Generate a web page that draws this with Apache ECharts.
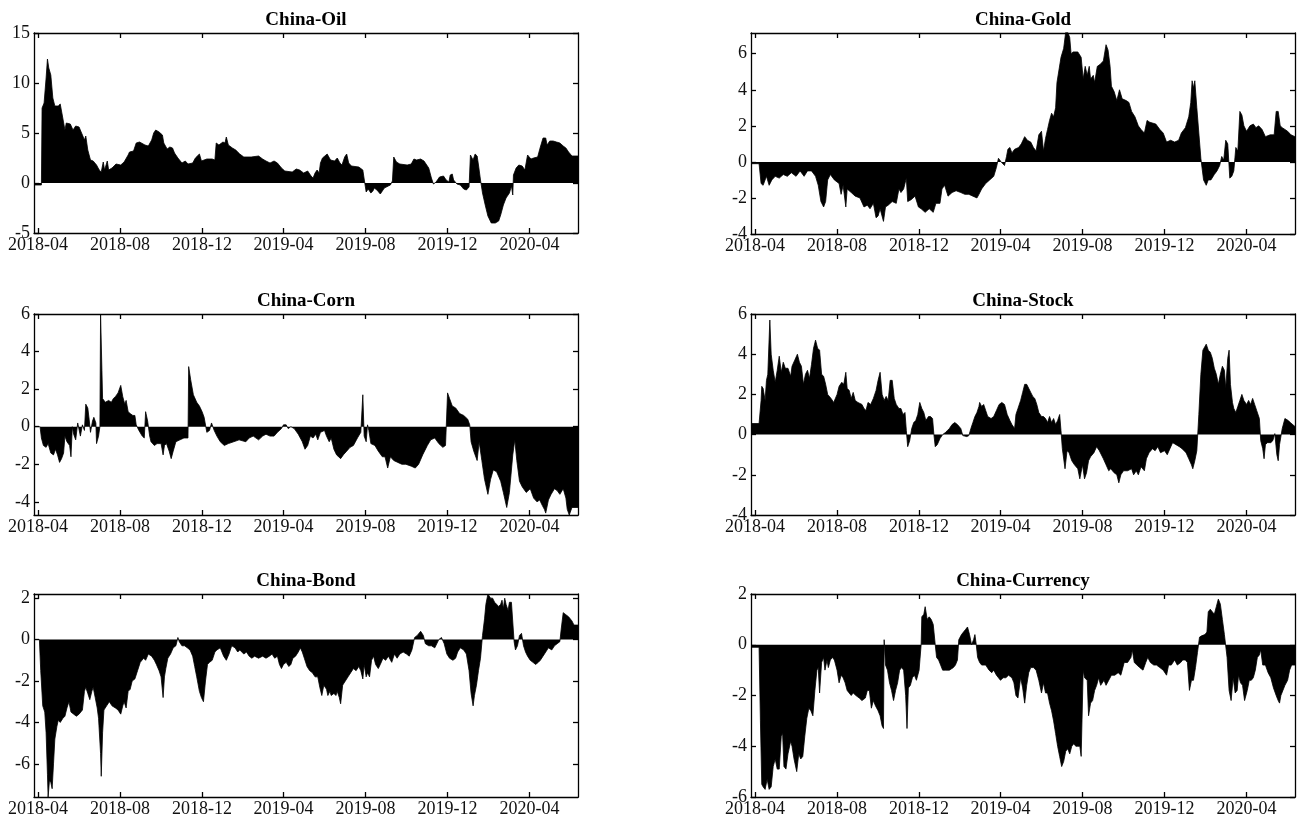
<!DOCTYPE html>
<html>
<head>
<meta charset="utf-8">
<script src="https://cdn.jsdelivr.net/npm/echarts@6/dist/echarts.min.js"></script>
<style>
  html, body { margin: 0; padding: 0; background: #fff; }
  #main { width: 1303px; height: 826px; }
</style>
</head>
<body>
<div id="main"></div>
<script>
// panel titles and shared x ticks
const titles = ['China-Oil', 'China-Gold', 'China-Corn', 'China-Stock', 'China-Bond', 'China-Currency'];
const xTicks = ['2018-04-01', '2018-08-01', '2018-12-01', '2019-04-01', '2019-08-01', '2019-12-01', '2020-04-01'];
const xStart = '2018-03-26';
const xEnd = '2020-06-12';

// y ticks per panel
const oilTicks = [-5, 0, 5, 10, 15];
const goldTicks = [-4, -2, 0, 2, 4, 6];
const cornTicks = [-4, -2, 0, 2, 4, 6];
const stockTicks = [-4, -2, 0, 2, 4, 6];
const bondTicks = [-6, -4, -2, 0, 2];
const currencyTicks = [-6, -4, -2, 0, 2];

// series: [date, value]
const oilData = [
  ['2018-03-26', -0.2], ['2018-04-06', -0.2], ['2018-04-07', 7.5], ['2018-04-10', 8], ['2018-04-13', 10.5],
  ['2018-04-15', 12.4], ['2018-04-17', 11.5], ['2018-04-19', 11.3], ['2018-04-20', 10.8], ['2018-04-23', 8.5],
  ['2018-04-26', 7.7], ['2018-05-01', 7.7], ['2018-05-04', 7.9], ['2018-05-07', 6.8], ['2018-05-11', 5.3],
  ['2018-05-13', 6.0], ['2018-05-19', 5.9], ['2018-05-23', 5.3], ['2018-05-27', 5.7], ['2018-06-01', 5.6],
  ['2018-06-06', 4.8], ['2018-06-09', 4.3], ['2018-06-11', 4.7], ['2018-06-14', 3.3], ['2018-06-18', 2.3],
  ['2018-06-22', 2.2], ['2018-06-27', 1.8], ['2018-07-01', 1.3], ['2018-07-04', 1.1], ['2018-07-07', 2.1],
  ['2018-07-09', 1.3], ['2018-07-13', 2.2], ['2018-07-15', 1.3], ['2018-07-20', 1.5], ['2018-07-26', 1.9],
  ['2018-08-02', 1.8], ['2018-08-07', 2.1], ['2018-08-13', 2.8], ['2018-08-15', 3.1], ['2018-08-21', 3.2],
  ['2018-08-25', 4.0], ['2018-08-30', 4.1], ['2018-09-07', 3.8], ['2018-09-12', 3.7], ['2018-09-17', 4.3],
  ['2018-09-20', 5.0], ['2018-09-23', 5.3], ['2018-09-28', 5.1], ['2018-10-03', 4.8], ['2018-10-05', 4.0],
  ['2018-10-10', 3.4], ['2018-10-14', 3.6], ['2018-10-18', 3.5], ['2018-10-21', 3.0], ['2018-10-26', 2.5],
  ['2018-11-01', 2.0], ['2018-11-06', 2.2], ['2018-11-10', 1.9], ['2018-11-17', 2.0], ['2018-11-21', 2.5],
  ['2018-11-27', 2.9], ['2018-11-30', 2.2], ['2018-12-08', 2.4], ['2018-12-16', 2.4], ['2018-12-20', 2.3],
  ['2018-12-22', 4.0], ['2018-12-26', 3.8], ['2019-01-01', 4.1], ['2019-01-04', 4.0], ['2019-01-06', 4.6],
  ['2019-01-09', 3.8], ['2019-01-15', 3.5], ['2019-01-20', 3.3], ['2019-01-26', 2.9], ['2019-02-01', 2.6],
  ['2019-02-12', 2.6], ['2019-02-23', 2.7], ['2019-03-01', 2.4], ['2019-03-06', 2.2], ['2019-03-12', 2.0],
  ['2019-03-18', 2.2], ['2019-03-23', 2.0], ['2019-03-29', 1.5], ['2019-04-03', 1.2], ['2019-04-14', 1.1],
  ['2019-04-20', 1.4], ['2019-04-25', 1.3], ['2019-05-01', 1.0], ['2019-05-07', 1.2], ['2019-05-12', 0.7],
  ['2019-05-15', 0.5], ['2019-05-18', 1.0], ['2019-05-21', 1.3], ['2019-05-24', 1.0], ['2019-05-26', 2.0],
  ['2019-05-29', 2.5], ['2019-06-05', 2.9], ['2019-06-07', 3.0], ['2019-06-10', 2.3], ['2019-06-16', 2.2],
  ['2019-06-20', 2.5], ['2019-06-24', 2.0], ['2019-06-27', 1.8], ['2019-07-01', 2.6], ['2019-07-04', 2.9],
  ['2019-07-07', 2.0], ['2019-07-11', 1.7], ['2019-07-22', 1.6], ['2019-07-28', 1.3], ['2019-07-30', 0.4],
  ['2019-08-02', -0.9], ['2019-08-05', -0.6], ['2019-08-09', -1.0], ['2019-08-12', -0.8], ['2019-08-14', -0.5],
  ['2019-08-18', -0.7], ['2019-08-23', -1.1], ['2019-08-25', -0.9], ['2019-08-29', -0.5], ['2019-09-04', -0.3],
  ['2019-09-07', -0.2], ['2019-09-10', 0.2], ['2019-09-12', 2.6], ['2019-09-16', 2.1], ['2019-09-21', 1.9],
  ['2019-10-02', 1.8], ['2019-10-08', 1.9], ['2019-10-12', 2.4], ['2019-10-16', 2.3], ['2019-10-22', 2.4],
  ['2019-10-27', 2.2], ['2019-11-03', 1.5], ['2019-11-07', 0.5], ['2019-11-10', -0.1], ['2019-11-14', 0.1],
  ['2019-11-19', 0.6], ['2019-11-25', 0.7], ['2019-11-29', 0.3], ['2019-12-03', 0.1], ['2019-12-05', 0.8],
  ['2019-12-08', 0.9], ['2019-12-10', 0.3], ['2019-12-15', -0.1], ['2019-12-20', -0.2], ['2019-12-25', -0.6],
  ['2019-12-29', -0.7], ['2020-01-02', -0.4], ['2020-01-04', 2.8], ['2020-01-08', 2.3], ['2020-01-11', 2.9],
  ['2020-01-14', 2.7], ['2020-01-16', 1.8], ['2020-01-19', 0.3], ['2020-01-22', -1.0], ['2020-01-26', -2.2],
  ['2020-01-30', -3.3], ['2020-02-04', -4.0], ['2020-02-10', -4.0], ['2020-02-15', -3.8], ['2020-02-18', -3.2],
  ['2020-02-22', -2.2], ['2020-02-26', -1.5], ['2020-03-02', -1.0], ['2020-03-05', -0.3], ['2020-03-07', -1.2],
  ['2020-03-08', 0.8], ['2020-03-12', 1.5], ['2020-03-16', 1.8], ['2020-03-21', 1.7], ['2020-03-25', 1.3],
  ['2020-03-29', 2.8], ['2020-04-03', 2.4], ['2020-04-07', 2.5], ['2020-04-13', 2.6], ['2020-04-17', 3.6],
  ['2020-04-21', 4.5], ['2020-04-25', 4.5], ['2020-04-27', 3.8], ['2020-05-01', 4.2], ['2020-05-06', 4.2],
  ['2020-05-11', 4.1], ['2020-05-16', 4.0], ['2020-05-21', 3.7], ['2020-05-25', 3.5], ['2020-05-29', 3.1],
  ['2020-06-03', 2.7], ['2020-06-12', 2.7]
];

const goldData = [
  ['2018-03-26', -0.1], ['2018-04-07', -0.1], ['2018-04-10', -1.2], ['2018-04-13', -1.3], ['2018-04-18', -0.8],
  ['2018-04-22', -1.3], ['2018-04-26', -1.0], ['2018-05-01', -0.8], ['2018-05-07', -0.9], ['2018-05-13', -0.7],
  ['2018-05-19', -0.8], ['2018-05-25', -0.6], ['2018-06-01', -0.8], ['2018-06-07', -0.5], ['2018-06-13', -0.8],
  ['2018-06-18', -0.5], ['2018-06-24', -0.5], ['2018-06-30', -0.8], ['2018-07-04', -1.3], ['2018-07-08', -2.2],
  ['2018-07-12', -2.5], ['2018-07-15', -2.2], ['2018-07-18', -1.0], ['2018-07-22', -0.7], ['2018-07-28', -1.0],
  ['2018-08-04', -1.2], ['2018-08-07', -1.8], ['2018-08-10', -1.3], ['2018-08-14', -2.5], ['2018-08-16', -1.5],
  ['2018-08-22', -1.7], ['2018-08-28', -1.9], ['2018-09-04', -2.0], ['2018-09-10', -2.5], ['2018-09-15', -2.4],
  ['2018-09-19', -2.6], ['2018-09-24', -2.3], ['2018-09-28', -3.1], ['2018-10-01', -3.0], ['2018-10-04', -2.6],
  ['2018-10-09', -3.3], ['2018-10-12', -2.5], ['2018-10-16', -2.4], ['2018-10-22', -2.2], ['2018-10-28', -2.3],
  ['2018-11-01', -1.5], ['2018-11-04', -1.7], ['2018-11-08', -1.5], ['2018-11-12', -0.9], ['2018-11-14', -2.2],
  ['2018-11-19', -2.1], ['2018-11-25', -1.9], ['2018-11-30', -2.5], ['2018-12-04', -2.6], ['2018-12-10', -2.8],
  ['2018-12-16', -2.6], ['2018-12-22', -2.8], ['2018-12-26', -2.3], ['2019-01-01', -2.3], ['2019-01-04', -1.5],
  ['2019-01-08', -1.3], ['2019-01-13', -1.9], ['2019-01-19', -1.7], ['2019-01-25', -1.6], ['2019-02-01', -1.7],
  ['2019-02-07', -1.8], ['2019-02-13', -1.8], ['2019-02-19', -1.9], ['2019-02-25', -2.0], ['2019-02-28', -1.8],
  ['2019-03-04', -1.5], ['2019-03-10', -1.2], ['2019-03-16', -1.0], ['2019-03-22', -0.8], ['2019-03-26', -0.3],
  ['2019-03-29', 0.2], ['2019-04-02', 0.0], ['2019-04-07', -0.2], ['2019-04-10', 0.3], ['2019-04-12', 0.7],
  ['2019-04-15', 0.8], ['2019-04-18', 0.5], ['2019-04-22', 0.7], ['2019-04-28', 0.8], ['2019-05-02', 1.0],
  ['2019-05-07', 1.4], ['2019-05-11', 1.2], ['2019-05-16', 1.1], ['2019-05-20', 0.8], ['2019-05-24', 0.6],
  ['2019-05-28', 1.5], ['2019-06-01', 1.7], ['2019-06-04', 0.6], ['2019-06-07', 1.3], ['2019-06-10', 1.8],
  ['2019-06-13', 2.3], ['2019-06-16', 2.7], ['2019-06-19', 2.5], ['2019-06-22', 3.0], ['2019-06-24', 4.4],
  ['2019-06-26', 4.3], ['2019-06-30', 5.8], ['2019-07-04', 6.3], ['2019-07-07', 7.2], ['2019-07-10', 7.2],
  ['2019-07-13', 6.9], ['2019-07-15', 6.0], ['2019-07-18', 6.1], ['2019-07-25', 6.1], ['2019-07-30', 5.8],
  ['2019-08-02', 4.6], ['2019-08-05', 5.3], ['2019-08-08', 4.8], ['2019-08-11', 5.3], ['2019-08-13', 4.6],
  ['2019-08-17', 4.8], ['2019-08-19', 4.4], ['2019-08-23', 5.3], ['2019-08-27', 5.4], ['2019-09-01', 5.6],
  ['2019-09-05', 6.5], ['2019-09-08', 6.2], ['2019-09-11', 5.3], ['2019-09-13', 4.2], ['2019-09-17', 3.9],
  ['2019-09-21', 3.4], ['2019-09-25', 4.0], ['2019-09-29', 3.5], ['2019-10-05', 3.4], ['2019-10-09', 3.3],
  ['2019-10-13', 2.8], ['2019-10-18', 2.5], ['2019-10-23', 2.0], ['2019-10-27', 1.8], ['2019-11-01', 1.6],
  ['2019-11-05', 2.3], ['2019-11-09', 2.2], ['2019-11-18', 2.1], ['2019-11-24', 1.8], ['2019-11-29', 1.6],
  ['2019-12-04', 1.1], ['2019-12-10', 1.2], ['2019-12-16', 1.1], ['2019-12-22', 1.2], ['2019-12-26', 1.6],
  ['2020-01-01', 1.9], ['2020-01-06', 2.5], ['2020-01-09', 3.3], ['2020-01-11', 4.5], ['2020-01-13', 4.1],
  ['2020-01-15', 4.5], ['2020-01-18', 3.0], ['2020-01-21', 1.6], ['2020-01-24', 0.2], ['2020-01-28', -1.0],
  ['2020-02-01', -1.3], ['2020-02-04', -1.0], ['2020-02-08', -1.0], ['2020-02-13', -0.7], ['2020-02-17', -0.5],
  ['2020-02-21', -0.2], ['2020-02-24', 0.3], ['2020-02-27', 0.1], ['2020-03-01', 1.2], ['2020-03-04', 1.0],
  ['2020-03-07', -0.9], ['2020-03-10', -0.8], ['2020-03-13', -0.5], ['2020-03-16', 0.8], ['2020-03-19', 0.6],
  ['2020-03-22', 2.8], ['2020-03-25', 2.6], ['2020-03-28', 2.0], ['2020-04-01', 1.7], ['2020-04-06', 2.0],
  ['2020-04-11', 2.1], ['2020-04-15', 1.9], ['2020-04-19', 2.0], ['2020-04-24', 1.8], ['2020-04-29', 1.4],
  ['2020-05-06', 1.5], ['2020-05-12', 1.5], ['2020-05-15', 2.8], ['2020-05-18', 2.8], ['2020-05-21', 2.0],
  ['2020-05-24', 1.9], ['2020-06-01', 1.7], ['2020-06-06', 1.5], ['2020-06-12', 1.4]
];

const cornData = [
  ['2018-03-26', 0.0], ['2018-04-04', 0.0], ['2018-04-06', -0.6], ['2018-04-09', -1.0], ['2018-04-13', -1.1],
  ['2018-04-16', -0.9], ['2018-04-20', -1.4], ['2018-04-24', -1.5], ['2018-04-27', -1.2], ['2018-04-30', -1.5],
  ['2018-05-03', -1.9], ['2018-05-06', -1.7], ['2018-05-09', -1.4], ['2018-05-11', -0.5], ['2018-05-14', -0.8],
  ['2018-05-18', -1.0], ['2018-05-20', -1.6], ['2018-05-22', 0.0], ['2018-05-24', -0.4], ['2018-05-27', -0.7],
  ['2018-05-30', 0.2], ['2018-06-01', 0.2], ['2018-06-03', -0.5], ['2018-06-06', 0.1], ['2018-06-09', -0.2],
  ['2018-06-11', 1.2], ['2018-06-14', 1.0], ['2018-06-16', 0.4], ['2018-06-18', -0.3], ['2018-06-21', 0.3],
  ['2018-06-23', 0.5], ['2018-06-26', 0.2], ['2018-06-27', -0.9], ['2018-06-30', -0.5], ['2018-07-02', 0.0],
  ['2018-07-03', 6.0], ['2018-07-05', 3.0], ['2018-07-06', 1.5], ['2018-07-10', 1.3], ['2018-07-15', 1.4],
  ['2018-07-19', 1.3], ['2018-07-22', 1.5], ['2018-07-25', 1.6], ['2018-07-29', 1.8], ['2018-08-02', 2.2],
  ['2018-08-05', 1.6], ['2018-08-08', 1.2], ['2018-08-10', 1.4], ['2018-08-13', 0.8], ['2018-08-16', 0.7],
  ['2018-08-20', 0.6], ['2018-08-23', 0.6], ['2018-08-25', 0.1], ['2018-08-29', -0.2], ['2018-09-03', -0.5],
  ['2018-09-06', -0.6], ['2018-09-08', 0.8], ['2018-09-11', 0.3], ['2018-09-14', -0.5], ['2018-09-16', -0.8],
  ['2018-09-21', -1.0], ['2018-09-25', -0.9], ['2018-10-01', -0.9], ['2018-10-04', -1.5], ['2018-10-06', -1.0],
  ['2018-10-09', -0.9], ['2018-10-13', -1.3], ['2018-10-16', -1.7], ['2018-10-19', -1.3], ['2018-10-23', -0.8],
  ['2018-10-29', -0.7], ['2018-11-04', -0.6], ['2018-11-10', -0.6], ['2018-11-11', 3.2], ['2018-11-14', 2.5],
  ['2018-11-18', 1.7], ['2018-11-23', 1.3], ['2018-11-27', 1.1], ['2018-12-01', 0.8], ['2018-12-04', 0.5],
  ['2018-12-08', -0.3], ['2018-12-12', -0.2], ['2018-12-15', 0.2], ['2018-12-19', -0.2], ['2018-12-23', -0.5],
  ['2018-12-28', -0.8], ['2019-01-03', -1.0], ['2019-01-09', -0.9], ['2019-01-17', -0.8], ['2019-01-25', -0.7],
  ['2019-02-04', -0.8], ['2019-02-09', -0.6], ['2019-02-15', -0.5], ['2019-02-23', -0.7], ['2019-03-01', -0.5],
  ['2019-03-06', -0.4], ['2019-03-12', -0.5], ['2019-03-18', -0.5], ['2019-03-23', -0.3], ['2019-03-29', -0.1],
  ['2019-04-01', 0.1], ['2019-04-05', 0.1], ['2019-04-08', -0.1], ['2019-04-12', 0.0], ['2019-04-17', -0.1],
  ['2019-04-23', -0.4], ['2019-04-29', -0.8], ['2019-05-03', -1.2], ['2019-05-07', -1.0], ['2019-05-11', -0.5],
  ['2019-05-15', -0.6], ['2019-05-19', -0.4], ['2019-05-22', -0.7], ['2019-05-26', -0.3], ['2019-06-01', -0.2],
  ['2019-06-04', -0.5], ['2019-06-08', -0.8], ['2019-06-11', -0.6], ['2019-06-15', -1.2], ['2019-06-19', -1.5],
  ['2019-06-25', -1.7], ['2019-06-29', -1.5], ['2019-07-04', -1.3], ['2019-07-09', -1.1], ['2019-07-14', -1.0],
  ['2019-07-20', -0.6], ['2019-07-25', -0.3], ['2019-07-28', 1.7], ['2019-07-30', -0.5], ['2019-08-02', -0.8],
  ['2019-08-04', 0.1], ['2019-08-06', -0.2], ['2019-08-09', -0.9], ['2019-08-15', -1.0], ['2019-08-20', -1.3],
  ['2019-08-26', -1.6], ['2019-08-30', -1.6], ['2019-09-03', -2.2], ['2019-09-07', -1.6], ['2019-09-12', -1.8],
  ['2019-09-18', -1.9], ['2019-09-24', -2.0], ['2019-09-30', -2.0], ['2019-10-08', -2.1], ['2019-10-14', -2.2],
  ['2019-10-19', -2.0], ['2019-10-25', -1.5], ['2019-11-01', -1.0], ['2019-11-06', -0.7], ['2019-11-12', -0.6],
  ['2019-11-18', -0.9], ['2019-11-24', -1.1], ['2019-11-28', -1.0], ['2019-12-01', 1.8], ['2019-12-04', 1.5],
  ['2019-12-08', 1.1], ['2019-12-13', 1.0], ['2019-12-19', 0.7], ['2019-12-25', 0.6], ['2019-12-31', 0.4],
  ['2020-01-03', 0.1], ['2020-01-05', -0.8], ['2020-01-09', -1.3], ['2020-01-14', -1.8], ['2020-01-17', -0.8],
  ['2020-01-21', -1.8], ['2020-01-25', -2.8], ['2020-01-30', -3.6], ['2020-02-03', -2.8], ['2020-02-07', -2.3],
  ['2020-02-12', -2.4], ['2020-02-18', -2.9], ['2020-02-22', -3.5], ['2020-02-27', -4.3], ['2020-03-02', -3.5],
  ['2020-03-07', -1.5], ['2020-03-10', -0.7], ['2020-03-13', -1.8], ['2020-03-17', -2.9], ['2020-03-21', -3.2],
  ['2020-03-27', -3.5], ['2020-04-02', -3.3], ['2020-04-07', -3.8], ['2020-04-12', -4.0], ['2020-04-16', -3.9],
  ['2020-04-20', -4.2], ['2020-04-23', -4.4], ['2020-04-25', -4.6], ['2020-04-29', -3.9], ['2020-05-03', -3.6],
  ['2020-05-08', -3.3], ['2020-05-12', -3.4], ['2020-05-16', -3.6], ['2020-05-21', -3.3], ['2020-05-25', -3.8],
  ['2020-05-27', -4.4], ['2020-05-30', -4.7], ['2020-06-03', -4.3], ['2020-06-12', -4.3]
];

const stockData = [
  ['2018-03-26', 0.55], ['2018-04-07', 0.55], ['2018-04-10', 1.7], ['2018-04-11', 2.4], ['2018-04-13', 2.3],
  ['2018-04-16', 1.7], ['2018-04-18', 2.7], ['2018-04-20', 3.0], ['2018-04-23', 5.7], ['2018-04-25', 4.0],
  ['2018-04-28', 3.2], ['2018-05-01', 2.6], ['2018-05-04', 3.2], ['2018-05-07', 3.9], ['2018-05-10', 3.1],
  ['2018-05-13', 3.6], ['2018-05-16', 3.3], ['2018-05-20', 3.3], ['2018-05-24', 2.9], ['2018-05-26', 3.4],
  ['2018-05-30', 3.7], ['2018-06-03', 4.0], ['2018-06-06', 3.6], ['2018-06-09', 3.4], ['2018-06-12', 2.5],
  ['2018-06-15', 3.0], ['2018-06-18', 3.2], ['2018-06-21', 2.8], ['2018-06-24', 3.5], ['2018-06-27', 4.3],
  ['2018-06-30', 4.7], ['2018-07-03', 4.3], ['2018-07-06', 4.2], ['2018-07-09', 3.0], ['2018-07-12', 2.9],
  ['2018-07-15', 2.5], ['2018-07-18', 2.0], ['2018-07-23', 1.8], ['2018-07-27', 1.6], ['2018-08-01', 2.0],
  ['2018-08-04', 2.4], ['2018-08-08', 2.6], ['2018-08-11', 2.5], ['2018-08-14', 3.1], ['2018-08-16', 2.3],
  ['2018-08-19', 2.2], ['2018-08-22', 1.8], ['2018-08-25', 2.1], ['2018-08-28', 1.7], ['2018-09-01', 1.6],
  ['2018-09-07', 1.5], ['2018-09-10', 1.3], ['2018-09-13', 1.2], ['2018-09-16', 1.6], ['2018-09-20', 1.5],
  ['2018-09-24', 1.8], ['2018-09-28', 2.2], ['2018-10-01', 2.7], ['2018-10-04', 3.1], ['2018-10-07', 2.0],
  ['2018-10-10', 1.7], ['2018-10-13', 1.9], ['2018-10-16', 1.7], ['2018-10-19', 2.7], ['2018-10-22', 2.7],
  ['2018-10-25', 1.8], ['2018-10-28', 1.5], ['2018-11-01', 1.3], ['2018-11-04', 1.3], ['2018-11-07', 1.0],
  ['2018-11-10', 1.1], ['2018-11-12', 0.2], ['2018-11-14', -0.6], ['2018-11-17', -0.3], ['2018-11-20', 0.3],
  ['2018-11-23', 0.6], ['2018-11-26', 0.7], ['2018-11-29', 1.0], ['2018-12-02', 1.6], ['2018-12-05', 1.3],
  ['2018-12-08', 1.1], ['2018-12-11', 0.7], ['2018-12-15', 0.9], ['2018-12-18', 0.9], ['2018-12-21', 0.8],
  ['2018-12-23', 0.0], ['2018-12-25', -0.6], ['2018-12-28', -0.5], ['2019-01-01', -0.2], ['2019-01-05', 0.0],
  ['2019-01-09', 0.1], ['2019-01-12', 0.2], ['2019-01-15', 0.3], ['2019-01-19', 0.5], ['2019-01-23', 0.6],
  ['2019-01-27', 0.5], ['2019-02-01', 0.3], ['2019-02-04', -0.05], ['2019-02-10', -0.1], ['2019-02-13', -0.05],
  ['2019-02-16', 0.3], ['2019-02-19', 0.6], ['2019-02-22', 0.9], ['2019-02-25', 1.1], ['2019-02-28', 1.4],
  ['2019-03-01', 1.6], ['2019-03-04', 1.4], ['2019-03-07', 1.5], ['2019-03-10', 1.2], ['2019-03-13', 0.9],
  ['2019-03-18', 0.8], ['2019-03-22', 0.9], ['2019-03-26', 1.2], ['2019-03-30', 1.5], ['2019-04-03', 1.6],
  ['2019-04-07', 1.5], ['2019-04-11', 1.0], ['2019-04-15', 0.7], ['2019-04-18', 0.5], ['2019-04-22', 0.3],
  ['2019-04-24', 1.0], ['2019-04-27', 1.3], ['2019-05-01', 1.7], ['2019-05-04', 2.1], ['2019-05-07', 2.5],
  ['2019-05-10', 2.5], ['2019-05-13', 2.3], ['2019-05-16', 2.1], ['2019-05-19', 1.9], ['2019-05-22', 1.8],
  ['2019-05-25', 1.5], ['2019-05-28', 1.1], ['2019-06-01', 0.9], ['2019-06-04', 0.9], ['2019-06-07', 0.8],
  ['2019-06-10', 0.6], ['2019-06-13', 0.9], ['2019-06-16', 0.6], ['2019-06-19', 0.8], ['2019-06-22', 0.5],
  ['2019-06-25', 0.7], ['2019-06-28', 1.0], ['2019-06-30', 0.2], ['2019-07-02', -0.7], ['2019-07-06', -1.7],
  ['2019-07-09', -0.8], ['2019-07-12', -0.9], ['2019-07-16', -1.3], ['2019-07-20', -1.5], ['2019-07-25', -1.7],
  ['2019-07-28', -2.2], ['2019-08-01', -1.5], ['2019-08-04', -2.2], ['2019-08-07', -1.9], ['2019-08-10', -1.3],
  ['2019-08-13', -1.1], ['2019-08-18', -0.9], ['2019-08-22', -0.6], ['2019-08-26', -0.8], ['2019-09-01', -1.2],
  ['2019-09-05', -1.5], ['2019-09-09', -1.8], ['2019-09-12', -1.7], ['2019-09-17', -1.9], ['2019-09-21', -2.0],
  ['2019-09-24', -2.4], ['2019-09-27', -2.0], ['2019-10-01', -1.8], ['2019-10-07', -1.8], ['2019-10-13', -1.7],
  ['2019-10-16', -2.0], ['2019-10-20', -1.8], ['2019-10-23', -2.0], ['2019-10-27', -1.6], ['2019-11-01', -1.8],
  ['2019-11-04', -1.2], ['2019-11-08', -0.9], ['2019-11-13', -0.7], ['2019-11-17', -0.8], ['2019-11-21', -0.6],
  ['2019-11-25', -0.9], ['2019-12-01', -0.8], ['2019-12-05', -1.0], ['2019-12-09', -0.7], ['2019-12-13', -0.4],
  ['2019-12-18', -0.5], ['2019-12-23', -0.6], ['2019-12-27', -0.7], ['2020-01-02', -0.9], ['2020-01-06', -1.2],
  ['2020-01-10', -1.5], ['2020-01-12', -1.7], ['2020-01-15', -1.3], ['2020-01-18', -0.8], ['2020-01-21', 1.0],
  ['2020-01-24', 3.0], ['2020-01-27', 4.2], ['2020-02-01', 4.5], ['2020-02-04', 4.2], ['2020-02-07', 4.1],
  ['2020-02-10', 3.8], ['2020-02-13', 3.3], ['2020-02-16', 3.0], ['2020-02-19', 2.5], ['2020-02-22', 3.0],
  ['2020-02-25', 3.4], ['2020-02-28', 3.2], ['2020-03-01', 2.3], ['2020-03-04', 3.8], ['2020-03-06', 4.2],
  ['2020-03-08', 2.5], ['2020-03-11', 1.6], ['2020-03-13', 1.3], ['2020-03-16', 1.1], ['2020-03-19', 1.4],
  ['2020-03-22', 1.7], ['2020-03-25', 2.0], ['2020-03-28', 1.7], ['2020-04-01', 1.5], ['2020-04-04', 1.7],
  ['2020-04-07', 1.5], ['2020-04-10', 1.8], ['2020-04-13', 1.5], ['2020-04-16', 1.2], ['2020-04-20', 0.8],
  ['2020-04-22', -0.3], ['2020-04-25', -0.7], ['2020-04-27', -1.2], ['2020-04-29', -0.5], ['2020-05-02', -0.4],
  ['2020-05-07', -0.4], ['2020-05-10', -0.3], ['2020-05-13', 0.05], ['2020-05-16', -1.0], ['2020-05-18', -1.3],
  ['2020-05-20', -0.5], ['2020-05-24', 0.3], ['2020-05-28', 0.8], ['2020-06-02', 0.7], ['2020-06-05', 0.6],
  ['2020-06-12', 0.4]
];

const bondData = [
  ['2018-03-26', 0.0], ['2018-04-03', 0.0], ['2018-04-05', -1.5], ['2018-04-08', -3.2], ['2018-04-11', -3.5],
  ['2018-04-13', -4.5], ['2018-04-15', -6.5], ['2018-04-16', -7.6], ['2018-04-18', -6.8], ['2018-04-20', -6.9],
  ['2018-04-22', -7.2], ['2018-04-24', -6.0], ['2018-04-26', -4.8], ['2018-04-29', -4.2], ['2018-05-01', -3.9],
  ['2018-05-04', -4.0], ['2018-05-08', -3.8], ['2018-05-11', -3.7], ['2018-05-14', -3.3], ['2018-05-17', -3.0],
  ['2018-05-20', -3.5], ['2018-05-24', -3.6], ['2018-05-28', -3.7], ['2018-06-01', -3.6], ['2018-06-06', -3.4],
  ['2018-06-09', -2.5], ['2018-06-11', -2.3], ['2018-06-14', -2.6], ['2018-06-17', -2.9], ['2018-06-20', -2.5],
  ['2018-06-22', -2.3], ['2018-06-25', -2.8], ['2018-06-28', -3.3], ['2018-06-30', -3.8], ['2018-07-03', -5.5],
  ['2018-07-04', -6.6], ['2018-07-06', -4.5], ['2018-07-08', -3.4], ['2018-07-12', -3.2], ['2018-07-16', -3.0],
  ['2018-07-20', -3.2], ['2018-07-25', -3.3], ['2018-07-29', -3.4], ['2018-08-02', -3.6], ['2018-08-05', -3.2],
  ['2018-08-07', -3.0], ['2018-08-10', -3.3], ['2018-08-13', -2.5], ['2018-08-16', -2.4], ['2018-08-19', -2.0],
  ['2018-08-23', -1.9], ['2018-08-27', -1.5], ['2018-08-31', -1.1], ['2018-09-05', -0.9], ['2018-09-08', -1.0],
  ['2018-09-12', -0.7], ['2018-09-17', -0.8], ['2018-09-21', -1.0], ['2018-09-24', -1.2], ['2018-09-28', -1.5],
  ['2018-10-01', -1.8], ['2018-10-04', -2.8], ['2018-10-06', -1.8], ['2018-10-08', -1.4], ['2018-10-11', -0.9],
  ['2018-10-15', -0.7], ['2018-10-19', -0.4], ['2018-10-23', -0.3], ['2018-10-26', 0.1], ['2018-10-28', -0.1],
  ['2018-11-01', -0.3], ['2018-11-05', -0.3], ['2018-11-09', -0.4], ['2018-11-13', -0.5], ['2018-11-17', -0.8],
  ['2018-11-20', -1.3], ['2018-11-23', -1.8], ['2018-11-27', -2.5], ['2018-11-30', -2.8], ['2018-12-03', -3.0],
  ['2018-12-06', -2.0], ['2018-12-09', -1.2], ['2018-12-12', -1.1], ['2018-12-16', -1.0], ['2018-12-20', -0.6],
  ['2018-12-23', -0.5], ['2018-12-28', -0.4], ['2019-01-02', -0.8], ['2019-01-06', -1.0], ['2019-01-10', -0.7],
  ['2019-01-14', -0.3], ['2019-01-19', -0.4], ['2019-01-23', -0.6], ['2019-01-26', -0.5], ['2019-02-01', -0.7],
  ['2019-02-05', -0.6], ['2019-02-09', -0.8], ['2019-02-13', -0.9], ['2019-02-17', -0.8], ['2019-02-23', -0.9],
  ['2019-03-01', -0.8], ['2019-03-06', -0.9], ['2019-03-11', -0.8], ['2019-03-15', -0.7], ['2019-03-19', -0.9],
  ['2019-03-23', -0.8], ['2019-03-26', -1.2], ['2019-03-29', -1.4], ['2019-04-01', -1.2], ['2019-04-05', -1.1],
  ['2019-04-09', -1.3], ['2019-04-12', -1.2], ['2019-04-15', -0.9], ['2019-04-19', -0.8], ['2019-04-23', -0.6],
  ['2019-04-26', -0.4], ['2019-04-29', -0.6], ['2019-05-02', -0.9], ['2019-05-06', -1.3], ['2019-05-10', -1.5],
  ['2019-05-14', -1.6], ['2019-05-18', -1.8], ['2019-05-22', -1.8], ['2019-05-25', -2.3], ['2019-05-28', -2.7],
  ['2019-05-31', -2.2], ['2019-06-04', -2.4], ['2019-06-06', -2.7], ['2019-06-09', -2.5], ['2019-06-11', -2.7],
  ['2019-06-15', -2.6], ['2019-06-18', -2.7], ['2019-06-20', -2.5], ['2019-06-23', -2.8], ['2019-06-25', -3.1],
  ['2019-06-28', -2.2], ['2019-07-02', -2.0], ['2019-07-06', -1.8], ['2019-07-10', -1.6], ['2019-07-14', -1.4],
  ['2019-07-18', -1.5], ['2019-07-22', -1.3], ['2019-07-25', -1.5], ['2019-07-28', -1.9], ['2019-07-30', -1.2],
  ['2019-08-02', -1.8], ['2019-08-04', -1.6], ['2019-08-07', -1.8], ['2019-08-10', -1.0], ['2019-08-13', -0.8],
  ['2019-08-16', -1.2], ['2019-08-20', -1.4], ['2019-08-23', -1.2], ['2019-08-27', -0.9], ['2019-08-31', -1.0],
  ['2019-09-04', -0.8], ['2019-09-09', -1.1], ['2019-09-13', -0.7], ['2019-09-17', -0.9], ['2019-09-21', -0.7],
  ['2019-09-26', -0.6], ['2019-10-01', -0.7], ['2019-10-05', -0.8], ['2019-10-09', -0.5], ['2019-10-13', 0.1],
  ['2019-10-17', 0.2], ['2019-10-22', 0.4], ['2019-10-26', 0.2], ['2019-10-29', -0.2], ['2019-11-03', -0.3],
  ['2019-11-07', -0.3], ['2019-11-12', -0.4], ['2019-11-18', 0.0], ['2019-11-22', 0.1], ['2019-11-26', -0.2],
  ['2019-11-30', -0.7], ['2019-12-04', -0.9], ['2019-12-09', -1.0], ['2019-12-13', -0.9], ['2019-12-16', -0.6],
  ['2019-12-20', -0.4], ['2019-12-25', -0.5], ['2019-12-29', -0.7], ['2020-01-02', -1.5], ['2020-01-05', -2.6],
  ['2020-01-08', -3.2], ['2020-01-10', -2.7], ['2020-01-13', -2.2], ['2020-01-16', -1.5], ['2020-01-19', -0.9],
  ['2020-01-22', 0.2], ['2020-01-25', 1.0], ['2020-01-27', 1.7], ['2020-01-30', 2.2], ['2020-02-03', 2.0],
  ['2020-02-06', 2.0], ['2020-02-09', 1.8], ['2020-02-12', 1.7], ['2020-02-15', 1.6], ['2020-02-18', 1.7],
  ['2020-02-20', 1.9], ['2020-02-22', 1.5], ['2020-02-24', 2.0], ['2020-02-26', 1.7], ['2020-02-29', 1.4],
  ['2020-03-02', 1.8], ['2020-03-05', 1.8], ['2020-03-07', 1.8], ['2020-03-09', -0.1], ['2020-03-11', -0.5],
  ['2020-03-14', -0.3], ['2020-03-17', 0.2], ['2020-03-20', 0.3], ['2020-03-23', -0.3], ['2020-03-26', -0.6],
  ['2020-03-29', -0.8], ['2020-04-02', -1.0], ['2020-04-06', -1.1], ['2020-04-10', -1.2], ['2020-04-14', -1.1],
  ['2020-04-17', -1.0], ['2020-04-21', -0.8], ['2020-04-25', -0.6], ['2020-04-29', -0.4], ['2020-05-04', -0.5],
  ['2020-05-08', -0.3], ['2020-05-12', -0.2], ['2020-05-16', -0.1], ['2020-05-18', 0.5], ['2020-05-21', 1.3],
  ['2020-05-25', 1.2], ['2020-05-29', 1.1], ['2020-06-03', 0.9], ['2020-06-06', 0.7], ['2020-06-12', 0.7]
];

const currencyData = [
  ['2018-03-26', -0.1], ['2018-04-07', -0.1], ['2018-04-09', -3.0], ['2018-04-11', -5.5], ['2018-04-13', -5.6],
  ['2018-04-16', -5.7], ['2018-04-19', -5.3], ['2018-04-22', -5.7], ['2018-04-25', -5.6], ['2018-04-28', -4.8],
  ['2018-05-01', -4.5], ['2018-05-04', -4.9], ['2018-05-07', -4.9], ['2018-05-10', -3.6], ['2018-05-12', -3.5],
  ['2018-05-14', -4.8], ['2018-05-17', -4.9], ['2018-05-20', -4.3], ['2018-05-24', -3.8], ['2018-05-26', -4.0],
  ['2018-05-29', -4.5], ['2018-06-02', -5.0], ['2018-06-05', -4.3], ['2018-06-08', -4.5], ['2018-06-11', -4.4],
  ['2018-06-14', -3.6], ['2018-06-17', -2.9], ['2018-06-20', -2.5], ['2018-06-23', -2.6], ['2018-06-26', -2.8],
  ['2018-06-29', -1.8], ['2018-07-02', -1.0], ['2018-07-04', -0.9], ['2018-07-06', -1.9], ['2018-07-09', -0.7],
  ['2018-07-12', -0.5], ['2018-07-14', -1.0], ['2018-07-17', -0.6], ['2018-07-19', -0.9], ['2018-07-22', -0.6],
  ['2018-07-25', -0.5], ['2018-07-28', -0.6], ['2018-08-01', -1.0], ['2018-08-04', -1.5], ['2018-08-07', -1.2],
  ['2018-08-10', -1.3], ['2018-08-13', -1.5], ['2018-08-16', -1.8], ['2018-08-19', -1.9], ['2018-08-22', -2.0],
  ['2018-08-25', -1.9], ['2018-08-29', -2.0], ['2018-09-03', -2.1], ['2018-09-07', -2.2], ['2018-09-12', -2.1],
  ['2018-09-15', -1.8], ['2018-09-18', -1.8], ['2018-09-21', -2.5], ['2018-09-24', -2.2], ['2018-09-27', -2.4],
  ['2018-10-01', -2.6], ['2018-10-04', -2.8], ['2018-10-07', -3.2], ['2018-10-09', -3.3], ['2018-10-10', 0.2],
  ['2018-10-12', -0.8], ['2018-10-15', -1.0], ['2018-10-18', -1.5], ['2018-10-21', -1.8], ['2018-10-24', -2.2],
  ['2018-10-27', -1.8], ['2018-10-30', -1.5], ['2018-11-02', -1.0], ['2018-11-05', -0.9], ['2018-11-08', -1.0],
  ['2018-11-11', -2.0], ['2018-11-13', -3.3], ['2018-11-15', -1.7], ['2018-11-18', -1.6], ['2018-11-21', -1.3],
  ['2018-11-24', -1.2], ['2018-11-27', -1.4], ['2018-12-01', -1.0], ['2018-12-04', 0.0], ['2018-12-05', 1.1],
  ['2018-12-08', 1.2], ['2018-12-10', 1.5], ['2018-12-13', 1.0], ['2018-12-16', 1.1], ['2018-12-19', 1.0],
  ['2018-12-22', 0.8], ['2018-12-25', 0.0], ['2018-12-27', -0.5], ['2018-12-30', -0.6], ['2019-01-02', -0.8],
  ['2019-01-05', -1.0], ['2019-01-09', -1.0], ['2019-01-15', -1.0], ['2019-01-21', -0.9], ['2019-01-24', -0.8],
  ['2019-01-27', -0.6], ['2019-01-29', 0.2], ['2019-02-02', 0.4], ['2019-02-05', 0.5], ['2019-02-08', 0.6],
  ['2019-02-11', 0.7], ['2019-02-14', 0.4], ['2019-02-17', 0.0], ['2019-02-20', 0.2], ['2019-02-22', 0.4],
  ['2019-02-24', 0.0], ['2019-02-26', -0.5], ['2019-03-01', -0.7], ['2019-03-04', -0.8], ['2019-03-10', -0.8],
  ['2019-03-15', -1.0], ['2019-03-19', -1.1], ['2019-03-22', -1.0], ['2019-03-26', -1.2], ['2019-04-01', -1.4],
  ['2019-04-05', -1.3], ['2019-04-09', -1.3], ['2019-04-13', -1.2], ['2019-04-18', -1.3], ['2019-04-21', -1.5],
  ['2019-04-24', -2.0], ['2019-04-27', -2.1], ['2019-05-01', -1.3], ['2019-05-04', -1.7], ['2019-05-07', -2.3],
  ['2019-05-10', -1.6], ['2019-05-13', -1.1], ['2019-05-16', -0.9], ['2019-05-20', -0.9], ['2019-05-24', -1.0],
  ['2019-05-28', -1.4], ['2019-06-01', -1.9], ['2019-06-04', -1.5], ['2019-06-07', -1.9], ['2019-06-10', -1.9],
  ['2019-06-13', -2.3], ['2019-06-16', -2.6], ['2019-06-19', -3.0], ['2019-06-22', -3.5], ['2019-06-25', -4.0],
  ['2019-06-28', -4.4], ['2019-07-01', -4.8], ['2019-07-04', -4.6], ['2019-07-07', -4.2], ['2019-07-10', -4.1],
  ['2019-07-13', -4.3], ['2019-07-16', -4.0], ['2019-07-19', -3.9], ['2019-07-22', -4.0], ['2019-07-25', -4.0],
  ['2019-07-28', -4.0], ['2019-07-30', -4.4], ['2019-08-02', -1.0], ['2019-08-04', -1.3], ['2019-08-08', -1.4],
  ['2019-08-10', -2.8], ['2019-08-13', -2.3], ['2019-08-16', -2.2], ['2019-08-19', -1.8], ['2019-08-22', -1.6],
  ['2019-08-25', -1.3], ['2019-08-28', -1.6], ['2019-09-02', -1.4], ['2019-09-05', -1.6], ['2019-09-09', -1.4],
  ['2019-09-13', -1.2], ['2019-09-18', -1.2], ['2019-09-23', -1.1], ['2019-09-27', -1.2], ['2019-10-02', -0.7],
  ['2019-10-07', -0.7], ['2019-10-12', -0.5], ['2019-10-14', -0.2], ['2019-10-17', -0.7], ['2019-10-21', -0.8],
  ['2019-10-25', -0.9], ['2019-10-30', -1.0], ['2019-11-03', -0.7], ['2019-11-06', -0.5], ['2019-11-10', -0.7],
  ['2019-11-15', -0.8], ['2019-11-19', -0.8], ['2019-11-24', -0.9], ['2019-11-29', -1.0], ['2019-12-04', -1.2],
  ['2019-12-07', -0.8], ['2019-12-11', -0.8], ['2019-12-16', -0.6], ['2019-12-20', -0.8], ['2019-12-25', -0.7],
  ['2019-12-28', -0.6], ['2020-01-01', -0.6], ['2020-01-04', -0.7], ['2020-01-07', -1.8], ['2020-01-10', -1.4],
  ['2020-01-13', -1.4], ['2020-01-16', -0.9], ['2020-01-19', -0.3], ['2020-01-22', 0.3], ['2020-01-25', 0.35],
  ['2020-01-30', 0.4], ['2020-02-02', 0.5], ['2020-02-04', 1.3], ['2020-02-07', 1.4], ['2020-02-10', 1.3],
  ['2020-02-13', 1.2], ['2020-02-16', 1.5], ['2020-02-19', 1.8], ['2020-02-22', 1.6], ['2020-02-25', 1.0],
  ['2020-02-28', 0.4], ['2020-03-01', 0.4], ['2020-03-03', -0.5], ['2020-03-06', -1.8], ['2020-03-09', -2.2],
  ['2020-03-12', -1.3], ['2020-03-15', -1.9], ['2020-03-18', -1.8], ['2020-03-20', -1.2], ['2020-03-23', -1.5],
  ['2020-03-26', -1.6], ['2020-03-29', -2.2], ['2020-04-02', -1.8], ['2020-04-05', -1.4], ['2020-04-08', -1.4],
  ['2020-04-11', -1.3], ['2020-04-14', -1.0], ['2020-04-17', -0.5], ['2020-04-20', -0.4], ['2020-04-22', -0.2],
  ['2020-04-25', -0.8], ['2020-04-29', -0.8], ['2020-05-03', -1.1], ['2020-05-07', -1.3], ['2020-05-11', -1.7],
  ['2020-05-15', -2.0], ['2020-05-18', -2.2], ['2020-05-20', -2.3], ['2020-05-22', -2.0], ['2020-05-25', -1.8],
  ['2020-05-28', -1.6], ['2020-06-01', -1.4], ['2020-06-04', -1.0], ['2020-06-07', -0.8], ['2020-06-12', -0.8]
];

// layout of the six panels: [left, top, width, height]
const panels = [
  { title: titles[0], data: oilData, ticks: oilTicks, min: -5, max: 15, box: [34, 33, 544, 200] },
  { title: titles[1], data: goldData, ticks: goldTicks, min: -4, max: 7.15, box: [751, 33, 544, 201] },
  { title: titles[2], data: cornData, ticks: cornTicks, min: -4.7, max: 6, box: [34, 314, 544, 201] },
  { title: titles[3], data: stockData, ticks: stockTicks, min: -4, max: 6, box: [751, 314, 544, 201] },
  { title: titles[4], data: bondData, ticks: bondTicks, min: -7.6, max: 2.2, box: [34, 594, 544, 203] },
  { title: titles[5], data: currencyData, ticks: currencyTicks, min: -6, max: 2, box: [751, 594, 544, 203] }
];

const FONT = 'Liberation Serif';
// dates as timestamps on a plain value axis
const toTime = d => {
  const [y, m, day] = d.split('-').map(Number);
  return Date.UTC(y, m - 1, day);
};
const xTickVals = xTicks.map(toTime);
const fmtMonth = v => {
  const d = new Date(v);
  const m = d.getUTCMonth() + 1;
  return d.getUTCFullYear() + '-' + (m < 10 ? '0' + m : m);
};

const chart = echarts.init(document.getElementById('main'));
const option = {
  animation: false,
  backgroundColor: '#fff',
  grid: [], xAxis: [], yAxis: [], series: [], graphic: []
};

const axisLine = { show: true, onZero: false, lineStyle: { color: '#000', width: 1.3 } };

panels.forEach((p, i) => {
  const [l, t, w, h] = p.box;
  option.grid.push({ left: l, top: t, width: w, height: h, show: false });

  const xBase = {
    type: 'value', gridIndex: i, min: toTime(xStart), max: toTime(xEnd), scale: true,
    axisLine: axisLine, splitLine: { show: false },
    axisTick: { show: true, inside: true, length: 5, customValues: xTickVals, lineStyle: { color: '#000', width: 1.3 } }
  };
  option.xAxis.push(Object.assign({}, xBase, {
    position: 'bottom',
    axisLabel: { customValues: xTickVals, formatter: fmtMonth, fontFamily: FONT, fontSize: 18, color: '#111', margin: 3 }
  }));
  option.xAxis.push(Object.assign({}, xBase, { position: 'top', axisLabel: { show: false } }));

  const yBase = {
    type: 'value', gridIndex: i, min: p.min, max: p.max,
    axisLine: axisLine, splitLine: { show: false },
    axisTick: { show: true, inside: true, length: 5, customValues: p.ticks, lineStyle: { color: '#000', width: 1.3 } }
  };
  option.yAxis.push(Object.assign({}, yBase, {
    position: 'left',
    axisLabel: { customValues: p.ticks, fontFamily: FONT, fontSize: 18, color: '#111', margin: 4 }
  }));
  option.yAxis.push(Object.assign({}, yBase, { position: 'right', axisLabel: { show: false } }));

  option.series.push({
    type: 'line', xAxisIndex: 2 * i, yAxisIndex: 2 * i,
    data: p.data.map(d => [toTime(d[0]), d[1]]),
    showSymbol: false, symbol: 'none', silent: true,
    lineStyle: { color: '#000', width: 0.8 },
    areaStyle: { color: '#000', opacity: 1 }
  });

  // panel title
  option.graphic.push({
    type: 'text', x: l + w / 2, y: t - 22,
    style: {
      text: p.title, fill: '#000', font: 'bold 19px "Liberation Serif"',
      textAlign: 'center', textVerticalAlign: 'top', align: 'center', verticalAlign: 'top'
    }
  });
});

chart.setOption(option);
</script>
</body>
</html>
